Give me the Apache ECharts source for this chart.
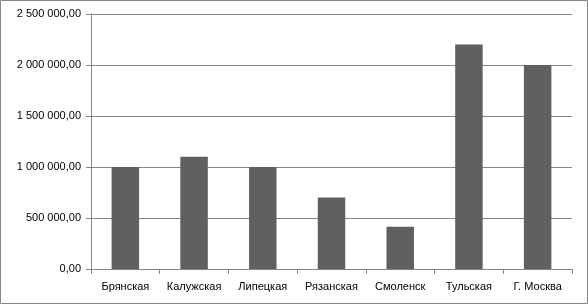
<!DOCTYPE html>
<html><head><meta charset="utf-8">
<script src="https://cdn.jsdelivr.net/npm/echarts@6/dist/echarts.min.js"></script>
<style>html,body{margin:0;padding:0;background:#fff}#c{width:588px;height:304px}</style>
</head><body><div id="c"></div>
<script>
const categories = ['Брянская','Калужская','Липецкая','Рязанская','Смоленск','Тульская','Г. Москва'];
const values = [1000000, 1100000, 1000000, 700000, 415000, 2200000, 2000000];
const yMin = 0, yMax = 2500000, yStep = 500000;

function fmt(v){
  const s = Math.round(v).toString().replace(/\B(?=(\d{3})+(?!\d))/g, ' ');
  return s + ',00';
}
const chart = echarts.init(document.getElementById('c'));
chart.setOption({
  animation:false,
  backgroundColor:'#fff',
  graphic:[{type:'rect',shape:{x:0.5,y:0.5,width:587,height:303},style:{fill:'none',stroke:'#868686',lineWidth:1},silent:true}],
  grid:{left:91,right:16,top:14,bottom:35,containLabel:false},
  xAxis:{type:'category',data:categories,
    axisLine:{lineStyle:{color:'#868686',width:1}},
    axisTick:{show:true,length:5,interval:0,lineStyle:{color:'#868686'}},
    axisLabel:{color:'#000',fontFamily:'Liberation Sans, Arial',fontSize:11,margin:12,interval:0}},
  yAxis:{type:'value',min:yMin,max:yMax,interval:yStep,
    axisLine:{show:true,lineStyle:{color:'#868686',width:1}},
    axisTick:{show:true,length:5,lineStyle:{color:'#868686'}},
    splitLine:{lineStyle:{color:'#868686',width:1}},
    axisLabel:{color:'#000',fontFamily:'Liberation Sans, Arial',fontSize:11,margin:10,formatter:fmt}},
  series:[{type:'bar',data:values,barWidth:'40%',itemStyle:{color:'#606060'}}]
});
</script></body></html>
